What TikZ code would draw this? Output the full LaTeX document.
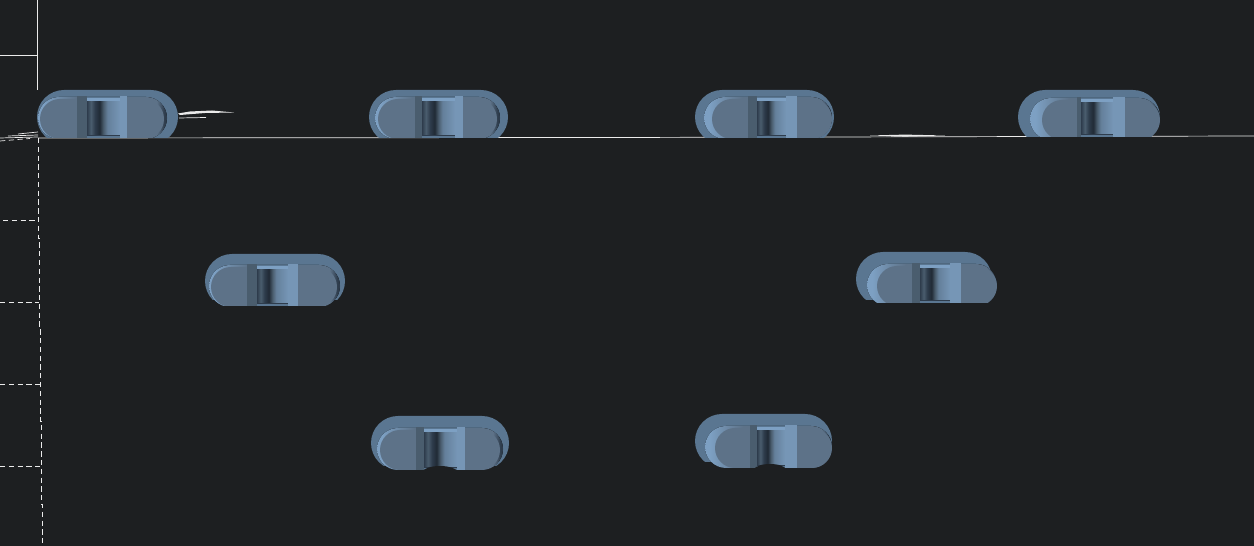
\documentclass[tikz,border=0pt]{standalone}
\definecolor{panel}{RGB}{29,31,33}
\definecolor{plate}{RGB}{90,118,145}
\definecolor{face}{RGB}{93,114,136}
\definecolor{rimlight}{RGB}{125,160,195}
\definecolor{rimdark}{RGB}{46,60,76}
\definecolor{stripdark}{RGB}{74,93,110}
\definecolor{striplight}{RGB}{118,150,182}
\definecolor{wire}{RGB}{235,235,235}
\pgfdeclarehorizontalshading{gapshade}{100bp}{
  color(0bp)=(rimdark); color(25bp)=(rimdark);
  color(31bp)=(stripdark); color(37bp)=(rimdark); color(44bp)=(rimdark!70!black);
  color(50bp)=(stripdark); color(56bp)=(striplight!85!black); color(75bp)=(striplight); color(100bp)=(striplight)}
\pgfdeclarehorizontalshading{rimshade}{100bp}{
  color(0bp)=(rimlight); color(27bp)=(rimlight); color(40bp)=(face);
  color(71bp)=(face); color(74bp)=(rimdark); color(100bp)=(rimdark)}
\usepackage{tikz}
\begin{document}
\begin{tikzpicture}[x=0.02cm,y=-0.02cm]
        \fill[panel] (0,0) rectangle (1254,546);
        \useasboundingbox (0,0) rectangle (1254,546);
        % wires behind the parts
        \draw[wire, thin] (37,0) -- (37,55) -- (0,55);
        \draw[wire, thin] (37,55) -- (37,90);
        \draw[wire, thin] (38,138) -- (620,137.5) -- (1254,136);
        \draw[wire, thin, densely dashed] (38,138) -- (38,238) -- (39,238) -- (39,329) -- (40,329) -- (40,421) -- (41,421) -- (41,504) -- (42,504) -- (42,546);
        \foreach \yy/\xa/\xb in {220/3/38,302/0/39,384/0/40,466/0/41}
          \draw[wire, thin, densely dashed] (\xa,\yy) -- (\xb,\yy);
        % slivers
        \fill[wire] (178,113.5) -- (190,111.5) -- (212,110.5) -- (234,112.5) -- (205,113) -- (180,115) -- cycle;
        \draw[wire, thin] (179,118) -- (206,117.5);
        \draw[wire, thin] (18,134) -- (38,132);
        \draw[wire, thin] (8,136) -- (38,135);
        \draw[wire, thin] (0,138) -- (38,137);
        \draw[wire, thin, densely dashed] (0,141) -- (30,138.5);
        \fill[wire] (870,135.5) -- (905,134.6) -- (945,135.5) -- (905,136.6) -- cycle;
        % parts: outer pill, rim, face, then the gap
        \foreach \oL/\oR/\oT/\oB/\iL/\iR/\iT/\fL/\fR/\bt/\sA/\sB/\sC/\sD in {
          37/178/90/138/38/167/97/40/164/138/77/87/120/127,
          369/508/90/138/375/500/97/378/497/138/415/422/455/463,
          695/834/90/138/704/832/97/712/832/138/748/757/786/797,
          1018/1160/90/137/1030/1160/98/1042/1160/137/1077/1081/1113/1125,
          205/345/254/300/209/340/265/211/337/306/247/257/288/298,
          856/992/252/300/867/997/264/877/997/303/912/920/950/961,
          371/509/416/466/377/503/428/380/500/470/416/424/457/465,
          695/832/414/462/705/832/426/715/832/468/750/757/785/797}{
          \begin{scope}
            \clip (\oL,\oT) rectangle (\oR,\oB);
            \fill[plate, rounded corners=0.54cm] (\oL,\oT) rectangle (\oR,{\oT+54});
          \end{scope}
          \begin{scope}
            \clip (\iL,\iT) rectangle (\iR,\bt);
            \fill[shading=rimshade, rounded corners=0.42cm] (\iL,\iT) rectangle (\iR,{\iT+42});
            \fill[face, rounded corners=0.40cm] (\fL,{\iT+2}) rectangle (\fR,{\iT+42});
            \fill[plate] (\sB,\iT) rectangle (\sC,\bt);
            \fill[shading=gapshade] (\sB,{\iT+3}) rectangle (\sC,{\bt-3});
            \fill[rimlight] (\sB,{\iT+1}) rectangle (\sC,{\iT+4});
            \fill[rimdark] (\sB,{\bt-3}) rectangle (\sC,{\bt-2});
            \fill[stripdark] (\sA,{\iT-1}) rectangle (\sB,\bt);
            \fill[striplight] (\sC,{\iT-1}) rectangle (\sD,\bt);
          \end{scope}
        }
        % cut-outs under the two lower gaps
        \fill[panel] (440,473) ellipse (18 and 7);
        \fill[panel] (770,470) ellipse (16 and 6);
      \end{tikzpicture}
\end{document}
